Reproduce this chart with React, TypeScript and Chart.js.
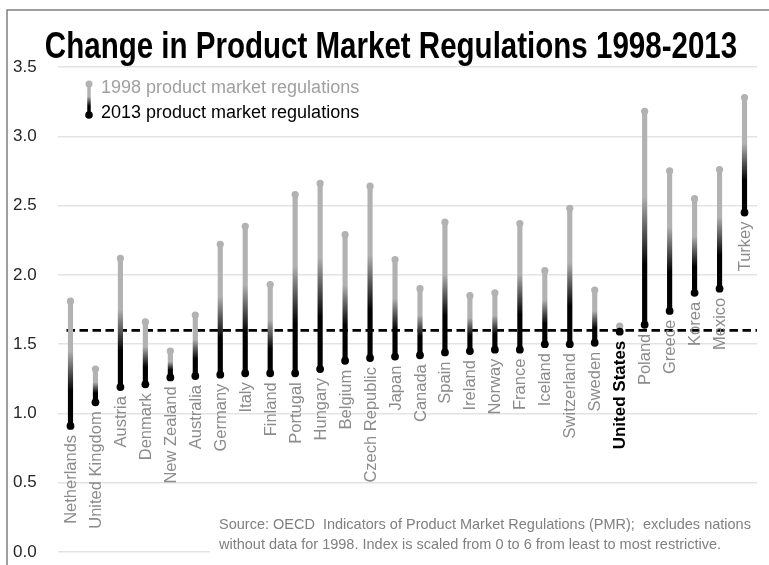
import React, { useEffect, useRef } from "react";
import { Chart, registerables } from "chart.js";

Chart.register(...registerables);

// ---------------- data ----------------
const countries = [
  "Netherlands", "United Kingdom", "Austria", "Denmark", "New Zealand", "Australia",
  "Germany", "Italy", "Finland", "Portugal", "Hungary", "Belgium", "Czech Republic",
  "Japan", "Canada", "Spain", "Ireland", "Norway", "France", "Iceland", "Switzerland",
  "Sweden", "United States", "Poland", "Greece", "Korea", "Mexico", "Turkey",
];
const pmr1998 = [
  1.81, 1.32, 2.12, 1.66, 1.45, 1.71, 2.22, 2.35, 1.93, 2.58, 2.66, 2.29, 2.64,
  2.11, 1.90, 2.38, 1.85, 1.87, 2.37, 2.03, 2.48, 1.89, 1.63, 3.18, 2.75, 2.55, 2.76, 3.28,
];
const pmr2013 = [
  0.91, 1.08, 1.19, 1.21, 1.26, 1.27, 1.28, 1.29, 1.29, 1.29, 1.32, 1.38, 1.40,
  1.41, 1.42, 1.44, 1.45, 1.46, 1.46, 1.50, 1.50, 1.51, 1.59, 1.64, 1.74, 1.87, 1.90, 2.45,
];
const highlightCountry = "United States";
const referenceLevel = 1.6;
const yMin = 0;
const yMax = 3.5;
const yStep = 0.5;
const titleText = "Change in Product Market Regulations 1998-2013";
const legendLabels = ["1998 product market regulations", "2013 product market regulations"];
const sourceLines = [
  "Source: OECD  Indicators of Product Market Regulations (PMR);  excludes nations",
  "without data for 1998. Index is scaled from 0 to 6 from least to most restrictive.",
];

// ---------------- styles ----------------
const GREY = "#b2b2b2";
const BLACK = "#000000";
const LABEL_GREY = "#8c8c8c";

function hasFont(name: string): boolean {
  const c = document.createElement("canvas").getContext("2d");
  if (!c) return false;
  const s = "abcdefghijklmnopqrstuvwxyz0123456789";
  c.font = "40px monospace";
  const a = c.measureText(s).width;
  c.font = `40px "${name}", monospace`;
  const b = c.measureText(s).width;
  return Math.abs(a - b) > 0.5;
}

function stemGradient(ctx: CanvasRenderingContext2D, top: number, bot: number) {
  const g = ctx.createLinearGradient(0, top, 0, bot);
  g.addColorStop(0, GREY);
  g.addColorStop(0.4, GREY);
  g.addColorStop(0.72, BLACK);
  g.addColorStop(1, BLACK);
  return g;
}

export default function App() {
  const canvasRef = useRef<HTMLCanvasElement | null>(null);

  useEffect(() => {
    document.body.style.margin = "0";
    const canvas = canvasRef.current;
    if (!canvas) return;
    const narrow = hasFont("Liberation Sans Narrow");
    const narrowFamily = narrow ? '"Liberation Sans Narrow", "Liberation Sans", Arial, sans-serif' : '"Liberation Sans", Arial, sans-serif';
    const regularFamily = '"Liberation Sans", Arial, sans-serif';

    const decorPlugin = {
      id: "decor",
      beforeDatasetsDraw(chart: any) {
        const { ctx, scales, chartArea } = chart;
        const x = scales.x;
        const y = scales.y;
        ctx.save();
        ctx.strokeStyle = BLACK;
        ctx.lineWidth = 2.8;
        ctx.setLineDash([8.5, 4.5]);
        const yy = y.getPixelForValue(referenceLevel);
        ctx.beginPath();
        ctx.moveTo(x.getPixelForValue(0) - 4, yy);
        ctx.lineTo(chartArea.right, yy);
        ctx.stroke();
        ctx.restore();
      },
      afterDraw(chart: any) {
        const { ctx, scales, width, height } = chart;
        const x = scales.x;
        const y = scales.y;
        ctx.save();

        // frame
        ctx.strokeStyle = "#808080";
        ctx.lineWidth = 1.5;
        ctx.beginPath();
        ctx.moveTo(width, 10);
        ctx.lineTo(7, 10);
        ctx.lineTo(7, height);
        ctx.stroke();

        // title
        ctx.fillStyle = "#000";
        ctx.textAlign = "center";
        ctx.textBaseline = "alphabetic";
        if (narrow) {
          ctx.font = `bold 36px ${narrowFamily}`;
          ctx.fillText(titleText, 391, 58);
        } else {
          ctx.font = `bold 36px ${regularFamily}`;
          ctx.save();
          ctx.translate(391, 58);
          ctx.scale(0.82, 1);
          ctx.fillText(titleText, 0, 0);
          ctx.restore();
        }

        // legend
        const lx = 89;
        const ly1 = 84;
        const ly2 = 115;
        ctx.strokeStyle = stemGradient(ctx, ly1, ly2);
        ctx.lineWidth = 3.5;
        ctx.beginPath();
        ctx.moveTo(lx, ly1);
        ctx.lineTo(lx, ly2);
        ctx.stroke();
        ctx.fillStyle = GREY;
        ctx.beginPath();
        ctx.arc(lx, ly1, 3.5, 0, Math.PI * 2);
        ctx.fill();
        ctx.fillStyle = BLACK;
        ctx.beginPath();
        ctx.arc(lx, ly2, 3.8, 0, Math.PI * 2);
        ctx.fill();
        ctx.font = `18px ${regularFamily}`;
        ctx.textAlign = "left";
        ctx.textBaseline = "middle";
        ctx.fillStyle = "#a0a0a0";
        ctx.fillText(legendLabels[0], 101, 88);
        ctx.fillStyle = BLACK;
        ctx.fillText(legendLabels[1], 101, 113);

        // category labels under 2013 dots
        for (let i = 0; i < countries.length; i++) {
          const px = x.getPixelForValue(i);
          const py = y.getPixelForValue(pmr2013[i]) + 9;
          const hl = countries[i] === highlightCountry;
          ctx.save();
          ctx.translate(px, py);
          ctx.rotate(-Math.PI / 2);
          ctx.textAlign = "right";
          ctx.textBaseline = "middle";
          ctx.font = hl ? `bold 17px ${regularFamily}` : `16.5px ${regularFamily}`;
          ctx.fillStyle = hl ? BLACK : LABEL_GREY;
          ctx.fillText(countries[i], 0, 1);
          ctx.restore();
        }

        // source note on a white box
        ctx.fillStyle = "#fff";
        ctx.fillRect(210, 508, 552, 50);
        ctx.font = `14.5px ${regularFamily}`;
        ctx.fillStyle = "#808080";
        ctx.textAlign = "left";
        ctx.textBaseline = "alphabetic";
        ctx.fillText(sourceLines[0], 219, 529);
        ctx.fillText(sourceLines[1], 219, 549);

        ctx.restore();
      },
    };

    const chart = new Chart(canvas, {
      type: "bar",
      data: {
        labels: countries,
        datasets: [
          {
            type: "line",
            label: legendLabels[1],
            data: pmr2013,
            showLine: false,
            pointRadius: 3.9,
            pointHoverRadius: 3.9,
            pointBackgroundColor: BLACK,
            pointBorderWidth: 0,
            order: 1,
          } as any,
          {
            type: "line",
            label: legendLabels[0],
            data: pmr1998,
            showLine: false,
            pointRadius: 3.6,
            pointHoverRadius: 3.6,
            pointBackgroundColor: GREY,
            pointBorderWidth: 0,
            order: 2,
          } as any,
          {
            type: "bar",
            label: "change",
            data: pmr2013.map((v, i) => [v, pmr1998[i]]),
            barThickness: 4.5,
            order: 3,
            backgroundColor: (c: any) => {
              const ch = c.chart;
              const ys = ch.scales && ch.scales.y;
              if (c.type !== "data" || !ys || !c.raw) return GREY;
              const raw = c.raw as number[];
              const top = ys.getPixelForValue(Math.max(raw[0], raw[1]));
              const bot = ys.getPixelForValue(Math.min(raw[0], raw[1]));
              if (!isFinite(top) || !isFinite(bot) || bot <= top) return GREY;
              return stemGradient(ch.ctx, top, bot);
            },
          } as any,
        ],
      },
      options: {
        animation: false,
        responsive: false,
        maintainAspectRatio: false,
        events: [],
        layout: { padding: { left: 13, right: 12, top: 67, bottom: 13 } },
        plugins: {
          legend: { display: false },
          title: { display: false },
          tooltip: { enabled: false },
        },
        scales: {
          x: {
            type: "category",
            offset: true,
            display: false,
            grid: { display: false },
          },
          y: {
            min: yMin,
            max: yMax,
            border: { display: false },
            grid: { color: "#e3e3e3", lineWidth: 1.5, drawTicks: false },
            afterFit: (s: any) => {
              s.width = 45;
            },
            ticks: {
              stepSize: yStep,
              crossAlign: "far",
              padding: 0,
              color: "#262626",
              font: { family: narrowFamily, size: narrow ? 19 : 17 },
              callback: (v: any) => Number(v).toFixed(1),
            },
          },
        },
      },
      plugins: [decorPlugin],
    });

    return () => chart.destroy();
  }, []);

  return (
    <div style={{ width: 769, height: 565, position: "relative", background: "#fff" }}>
      <canvas ref={canvasRef} width={769} height={565} style={{ display: "block" }} />
    </div>
  );
}
